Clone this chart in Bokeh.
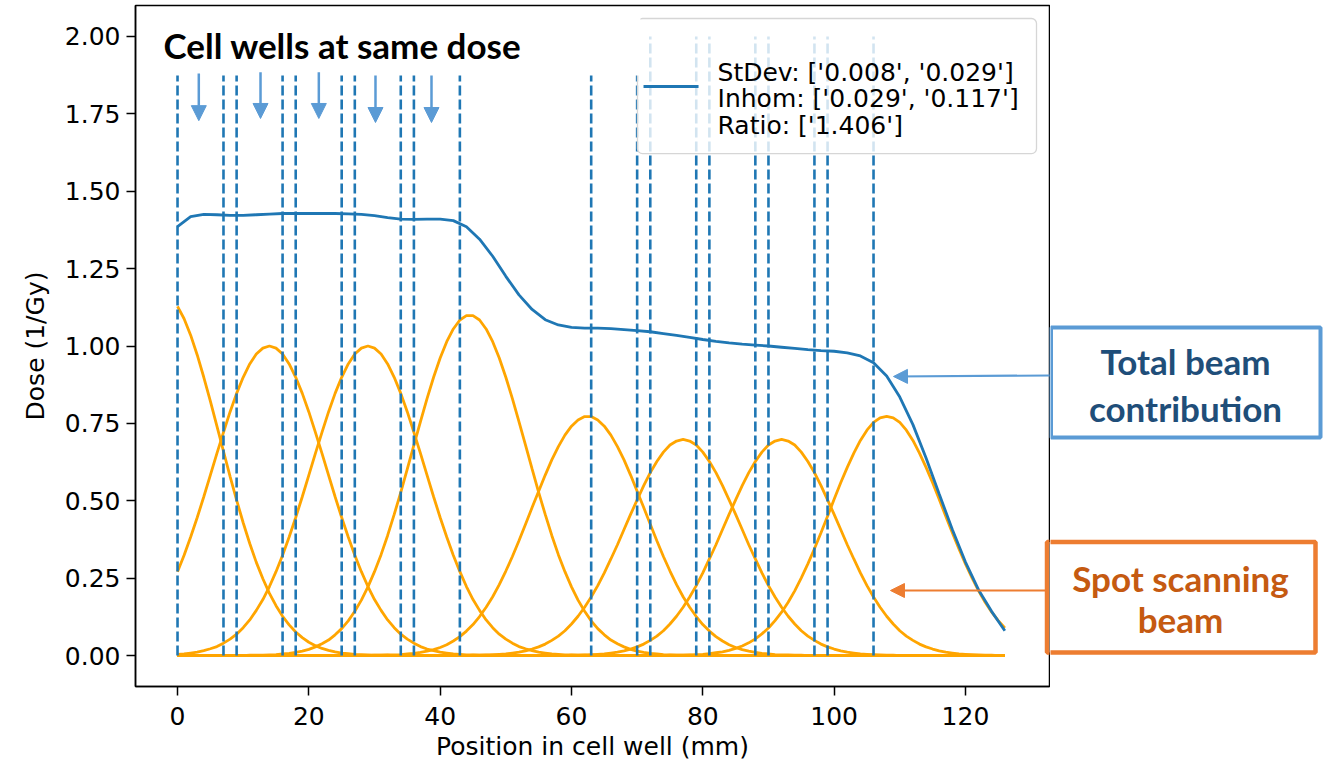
from bokeh.plotting import figure
from bokeh.layouts import row
from bokeh.models import (Range1d, FixedTicker, NumeralTickFormatter, BoxAnnotation,
                          Label, Arrow, NormalHead, ColumnDataSource)
from bokeh.embed import file_html
from bokeh.resources import INLINE

# ---------------- data ----------------
x_mm = list(range(0, 127))          # spot profiles sampled every 1 mm (0..126)
x_total = list(range(0, 128, 2))    # total dose sampled every 2 mm (0..126)

spot_1 = [1.128, 1.088, 1.035, 0.971, 0.899, 0.822, 0.741, 0.660, 0.579, 0.502,
          0.429, 0.362, 0.301, 0.248, 0.201, 0.161, 0.127, 0.099, 0.076, 0.058,
          0.043, 0.032, 0.023, 0.017, 0.012, 0.008, 0.006, 0.004, 0.003, 0.002,
          0.001, 0.001, 0.001, 0, 0, 0, 0, 0, 0, 0,
          0, 0, 0, 0, 0, 0, 0, 0, 0, 0,
          0, 0, 0, 0, 0, 0, 0, 0, 0, 0,
          0, 0, 0, 0, 0, 0, 0, 0, 0, 0,
          0, 0, 0, 0, 0, 0, 0, 0, 0, 0,
          0, 0, 0, 0, 0, 0, 0, 0, 0, 0,
          0, 0, 0, 0, 0, 0, 0, 0, 0, 0,
          0, 0, 0, 0, 0, 0, 0, 0, 0, 0,
          0, 0, 0, 0, 0, 0, 0, 0, 0, 0,
          0, 0, 0, 0, 0, 0, 0]
spot_2 = [0.271, 0.324, 0.383, 0.446, 0.513, 0.583, 0.653, 0.721, 0.787, 0.847,
          0.899, 0.942, 0.974, 0.993, 1.000, 0.993, 0.974, 0.942, 0.899, 0.847,
          0.787, 0.721, 0.653, 0.583, 0.513, 0.446, 0.383, 0.324, 0.271, 0.223,
          0.181, 0.146, 0.115, 0.090, 0.069, 0.053, 0.040, 0.029, 0.021, 0.016,
          0.011, 0.008, 0.005, 0.004, 0.002, 0.002, 0.001, 0.001, 0, 0,
          0, 0, 0, 0, 0, 0, 0, 0, 0, 0,
          0, 0, 0, 0, 0, 0, 0, 0, 0, 0,
          0, 0, 0, 0, 0, 0, 0, 0, 0, 0,
          0, 0, 0, 0, 0, 0, 0, 0, 0, 0,
          0, 0, 0, 0, 0, 0, 0, 0, 0, 0,
          0, 0, 0, 0, 0, 0, 0, 0, 0, 0,
          0, 0, 0, 0, 0, 0, 0, 0, 0, 0,
          0, 0, 0, 0, 0, 0, 0]
spot_3 = [0.004, 0.005, 0.008, 0.011, 0.016, 0.022, 0.029, 0.040, 0.053, 0.069,
          0.090, 0.115, 0.146, 0.181, 0.223, 0.271, 0.324, 0.383, 0.446, 0.513,
          0.583, 0.653, 0.721, 0.787, 0.847, 0.899, 0.942, 0.974, 0.993, 1.000,
          0.993, 0.974, 0.942, 0.899, 0.847, 0.787, 0.721, 0.653, 0.583, 0.513,
          0.446, 0.383, 0.324, 0.271, 0.223, 0.181, 0.146, 0.115, 0.090, 0.069,
          0.053, 0.040, 0.029, 0.022, 0.016, 0.011, 0.008, 0.005, 0.004, 0.002,
          0.002, 0.001, 0.001, 0, 0, 0, 0, 0, 0, 0,
          0, 0, 0, 0, 0, 0, 0, 0, 0, 0,
          0, 0, 0, 0, 0, 0, 0, 0, 0, 0,
          0, 0, 0, 0, 0, 0, 0, 0, 0, 0,
          0, 0, 0, 0, 0, 0, 0, 0, 0, 0,
          0, 0, 0, 0, 0, 0, 0, 0, 0, 0,
          0, 0, 0, 0, 0, 0, 0]
spot_4 = [0, 0, 0, 0, 0, 0, 0, 0, 0, 0,
          0, 0.001, 0.001, 0.001, 0.002, 0.003, 0.005, 0.007, 0.010, 0.014,
          0.020, 0.028, 0.038, 0.050, 0.067, 0.087, 0.112, 0.143, 0.179, 0.222,
          0.271, 0.326, 0.388, 0.456, 0.527, 0.603, 0.680, 0.756, 0.830, 0.899,
          0.961, 1.014, 1.055, 1.084, 1.098, 1.098, 1.084, 1.055, 1.014, 0.961,
          0.899, 0.830, 0.756, 0.680, 0.603, 0.527, 0.456, 0.388, 0.326, 0.271,
          0.222, 0.179, 0.143, 0.112, 0.087, 0.067, 0.050, 0.038, 0.028, 0.020,
          0.014, 0.010, 0.007, 0.005, 0.003, 0.002, 0.001, 0.001, 0.001, 0,
          0, 0, 0, 0, 0, 0, 0, 0, 0, 0,
          0, 0, 0, 0, 0, 0, 0, 0, 0, 0,
          0, 0, 0, 0, 0, 0, 0, 0, 0, 0,
          0, 0, 0, 0, 0, 0, 0, 0, 0, 0,
          0, 0, 0, 0, 0, 0, 0]
spot_5 = [0, 0, 0, 0, 0, 0, 0, 0, 0, 0,
          0, 0, 0, 0, 0, 0, 0, 0, 0, 0,
          0, 0, 0, 0, 0, 0, 0, 0, 0, 0,
          0.001, 0.001, 0.002, 0.002, 0.003, 0.005, 0.007, 0.010, 0.014, 0.019,
          0.026, 0.035, 0.047, 0.061, 0.079, 0.100, 0.126, 0.156, 0.190, 0.229,
          0.273, 0.320, 0.371, 0.424, 0.478, 0.531, 0.583, 0.632, 0.675, 0.712,
          0.741, 0.761, 0.772, 0.772, 0.761, 0.741, 0.712, 0.675, 0.632, 0.583,
          0.531, 0.478, 0.424, 0.371, 0.320, 0.273, 0.229, 0.190, 0.156, 0.126,
          0.100, 0.079, 0.061, 0.047, 0.035, 0.026, 0.019, 0.014, 0.010, 0.007,
          0.005, 0.003, 0.002, 0.002, 0.001, 0.001, 0, 0, 0, 0,
          0, 0, 0, 0, 0, 0, 0, 0, 0, 0,
          0, 0, 0, 0, 0, 0, 0, 0, 0, 0,
          0, 0, 0, 0, 0, 0, 0]
spot_6 = [0, 0, 0, 0, 0, 0, 0, 0, 0, 0,
          0, 0, 0, 0, 0, 0, 0, 0, 0, 0,
          0, 0, 0, 0, 0, 0, 0, 0, 0, 0,
          0, 0, 0, 0, 0, 0, 0, 0, 0, 0,
          0, 0, 0, 0, 0, 0.001, 0.001, 0.002, 0.003, 0.004,
          0.005, 0.008, 0.011, 0.015, 0.021, 0.028, 0.037, 0.049, 0.063, 0.080,
          0.102, 0.127, 0.156, 0.189, 0.226, 0.267, 0.312, 0.358, 0.407, 0.456,
          0.503, 0.549, 0.591, 0.627, 0.657, 0.680, 0.693, 0.698, 0.693, 0.680,
          0.657, 0.627, 0.591, 0.549, 0.503, 0.456, 0.407, 0.358, 0.312, 0.267,
          0.226, 0.189, 0.156, 0.127, 0.102, 0.080, 0.063, 0.049, 0.037, 0.028,
          0.021, 0.015, 0.011, 0.008, 0.005, 0.004, 0.003, 0.002, 0.001, 0.001,
          0, 0, 0, 0, 0, 0, 0, 0, 0, 0,
          0, 0, 0, 0, 0, 0, 0]
spot_7 = [0, 0, 0, 0, 0, 0, 0, 0, 0, 0,
          0, 0, 0, 0, 0, 0, 0, 0, 0, 0,
          0, 0, 0, 0, 0, 0, 0, 0, 0, 0,
          0, 0, 0, 0, 0, 0, 0, 0, 0, 0,
          0, 0, 0, 0, 0, 0, 0, 0, 0, 0,
          0, 0, 0, 0, 0, 0, 0, 0, 0, 0,
          0.001, 0.001, 0.002, 0.003, 0.004, 0.005, 0.008, 0.011, 0.015, 0.021,
          0.028, 0.037, 0.049, 0.063, 0.080, 0.102, 0.127, 0.156, 0.189, 0.226,
          0.267, 0.312, 0.358, 0.407, 0.456, 0.503, 0.549, 0.591, 0.627, 0.657,
          0.680, 0.693, 0.698, 0.693, 0.680, 0.657, 0.627, 0.591, 0.549, 0.503,
          0.456, 0.407, 0.358, 0.312, 0.267, 0.226, 0.189, 0.156, 0.127, 0.102,
          0.080, 0.063, 0.049, 0.037, 0.028, 0.021, 0.015, 0.011, 0.008, 0.005,
          0.004, 0.003, 0.002, 0.001, 0.001, 0, 0]
spot_8 = [0, 0, 0, 0, 0, 0, 0, 0, 0, 0,
          0, 0, 0, 0, 0, 0, 0, 0, 0, 0,
          0, 0, 0, 0, 0, 0, 0, 0, 0, 0,
          0, 0, 0, 0, 0, 0, 0, 0, 0, 0,
          0, 0, 0, 0, 0, 0, 0, 0, 0, 0,
          0, 0, 0, 0, 0, 0, 0, 0, 0, 0,
          0, 0, 0, 0, 0, 0, 0, 0, 0, 0,
          0, 0, 0, 0, 0, 0.001, 0.001, 0.001, 0.002, 0.003,
          0.004, 0.006, 0.009, 0.012, 0.017, 0.023, 0.031, 0.041, 0.054, 0.070,
          0.089, 0.113, 0.140, 0.172, 0.209, 0.251, 0.296, 0.345, 0.397, 0.450,
          0.505, 0.558, 0.608, 0.654, 0.695, 0.728, 0.753, 0.768, 0.773, 0.768,
          0.753, 0.728, 0.695, 0.654, 0.608, 0.558, 0.505, 0.450, 0.397, 0.345,
          0.296, 0.251, 0.209, 0.172, 0.140, 0.113, 0.089]
spots = [spot_1, spot_2, spot_3, spot_4, spot_5, spot_6, spot_7, spot_8]

total_dose = [1.386, 1.418, 1.425, 1.424, 1.422, 1.422, 1.424, 1.426, 1.428, 1.428, 1.428, 1.428, 1.428, 1.427, 1.425, 1.421,
              1.415, 1.410, 1.409, 1.410, 1.410, 1.405, 1.385, 1.345, 1.290, 1.225, 1.165, 1.118, 1.085, 1.068, 1.060, 1.058,
              1.058, 1.056, 1.053, 1.050, 1.046, 1.040, 1.034, 1.028, 1.021, 1.015, 1.010, 1.006, 1.003, 1.000, 0.996, 0.992,
              0.988, 0.985, 0.983, 0.978, 0.968, 0.946, 0.903, 0.835, 0.746, 0.638, 0.522, 0.407, 0.302, 0.212, 0.142, 0.080]

well_edges = [0, 7, 9, 16, 18, 25, 27, 34, 36, 43, 63, 70, 72, 79, 81, 88, 90, 97, 99, 106]
edge_low = 0.0
edge_high = 2.0

arrow_x = [3.24, 12.64, 21.52, 30.15, 38.68]
arrow_top = [1.880, 1.884, 1.884, 1.874, 1.874]
arrow_tip = [1.728, 1.735, 1.735, 1.722, 1.722]

x_ticks = [0, 20, 40, 60, 80, 100, 120]
y_ticks = [0.0, 0.25, 0.5, 0.75, 1.0, 1.25, 1.5, 1.75, 2.0]

legend_lines = ["StDev: ['0.008', '0.029']", "Inhom: ['0.029', '0.117']", "Ratio: ['1.406']"]

# ---------------- styles ----------------
MPL_BLUE = "#1f77b4"
ORANGE = "#FFA500"
PPT_BLUE = "#5B9BD5"
PPT_ORANGE = "#ED7D31"
FONT = "DejaVu Sans"
PPT_FONT = "Lato"
FS = "25px"
PPT_FS = "35px"

# ---------------- main figure ----------------
p = figure(width=1050, height=767, output_backend="svg", toolbar_location=None,
           x_range=Range1d(-6.4, 132.8), y_range=Range1d(-0.1, 2.1),
           min_border_left=135, min_border_right=1, min_border_top=5, min_border_bottom=81)
p.background_fill_color = "white"
p.border_fill_color = "white"
p.grid.visible = False
p.outline_line_color = "black"
p.outline_line_width = 1.5
p.outline_line_alpha = 1.0

for ax in (p.xaxis[0], p.yaxis[0]):
    ax.axis_line_color = "black"
    ax.axis_line_width = 1.5
    ax.major_tick_line_color = "black"
    ax.major_tick_line_width = 1.5
    ax.major_tick_out = 9
    ax.major_tick_in = 0
    ax.minor_tick_line_color = None
    ax.major_label_text_font = FONT
    ax.major_label_text_font_size = FS
    ax.major_label_text_color = "black"
    ax.axis_label_text_font = FONT
    ax.axis_label_text_font_size = FS
    ax.axis_label_text_font_style = "normal"
    ax.axis_label_text_color = "black"

p.xaxis.ticker = FixedTicker(ticks=x_ticks)
p.yaxis.ticker = FixedTicker(ticks=y_ticks)
p.yaxis.formatter = NumeralTickFormatter(format="0.00")
p.xaxis.axis_label = "Position in cell well (mm)"
p.yaxis.axis_label = "Dose (1/Gy)"
p.xaxis.major_label_standoff = 11
p.xaxis.axis_label_standoff = 4
p.yaxis.major_label_standoff = 6
p.yaxis.axis_label_standoff = 12

# spot scanning beams
for s in spots:
    p.line(x_mm, s, line_color=ORANGE, line_width=2.8)

# well edges
n = len(well_edges)
p.segment(x0=well_edges, y0=[edge_low] * n, x1=well_edges, y1=[edge_high] * n,
          line_color=MPL_BLUE, line_width=2.6, line_dash="10 4")

# total beam
p.line(x_total, total_dose, line_color=MPL_BLUE, line_width=2.8)

# legend (matplotlib style, drawn by hand)
p.add_layout(BoxAnnotation(left=70.05, right=130.82, top=2.058, bottom=1.6217,
                           fill_color="white", fill_alpha=0.8, line_color="#d6d6d6", line_alpha=1.0,
                           line_width=1.3, border_radius=5))
p.add_layout(Arrow(end=None, x_start=70.97, y_start=1.8384, x_end=79.35, y_end=1.8384,
                   line_color=MPL_BLUE, line_width=2.8))
for txt, yy in zip(legend_lines, [1.8835, 1.7995, 1.7123]):
    p.add_layout(Label(x=82.24, y=yy, text=txt, text_font=FONT, text_font_size=FS,
                       text_color="black", text_baseline="middle", text_align="left"))

# white cover behind overlay title
p.add_layout(BoxAnnotation(left=-5.64, right=70.51, top=2.0936, bottom=1.8739,
                           fill_color="white", fill_alpha=1.0, line_color=None))
p.add_layout(Label(x=-2.14, y=1.9708, text="Cell wells at same dose", text_font=PPT_FONT,
                   text_font_style="bold", text_font_size=PPT_FS, text_color="black",
                   text_baseline="middle", text_align="left"))

# down arrows
arrow_src = ColumnDataSource(dict(x=arrow_x, y0=arrow_top, y1=arrow_tip))
p.add_layout(Arrow(end=NormalHead(size=15, fill_color=PPT_BLUE, line_color=PPT_BLUE, line_width=1),
                   x_start="x", y_start="y0", x_end="x", y_end="y1", source=arrow_src,
                   line_color=PPT_BLUE, line_width=2.5))

# call-out arrows (inside the frame) and left edges of the boxes
p.add_layout(Arrow(end=NormalHead(size=14, fill_color=PPT_BLUE, line_color=PPT_BLUE, line_width=1),
                   x_start=133.3, y_start=0.9047, x_end=109.04, y_end=0.9015,
                   line_color=PPT_BLUE, line_width=2.2))
p.add_layout(Arrow(end=NormalHead(size=14, fill_color=PPT_ORANGE, line_color=PPT_ORANGE, line_width=1),
                   x_start=132.4, y_start=0.2101, x_end=108.58, y_end=0.2101,
                   line_color=PPT_ORANGE, line_width=2.2))
p.add_layout(BoxAnnotation(left=133.03, right=175.0, top=1.0591, bottom=0.7045,
                           fill_color="white", fill_alpha=1.0, line_color=PPT_BLUE, line_alpha=1.0,
                           line_width=4))
p.add_layout(BoxAnnotation(left=132.42, right=175.0, top=0.3668, bottom=0.0098,
                           fill_color="white", fill_alpha=1.0, line_color=PPT_ORANGE, line_alpha=1.0,
                           line_width=4.5))

# ---------------- side panel with the call-out boxes (page-pixel coordinates) ----------------
side = figure(width=280, height=767, output_backend="svg", toolbar_location=None,
              x_range=Range1d(1050, 1330), y_range=Range1d(686, 5),
              x_axis_type=None, y_axis_type=None,
              min_border_left=0, min_border_right=0, min_border_top=5, min_border_bottom=81)
side.grid.visible = False
side.outline_line_color = None
side.background_fill_color = "white"
side.border_fill_color = "white"

side.add_layout(BoxAnnotation(left=1050.5, right=1320, top=327, bottom=437,
                              fill_color="white", fill_alpha=1.0, line_color=PPT_BLUE, line_alpha=1.0,
                              line_width=4))
side.add_layout(Label(x=1185, y=360, text="Total beam", text_font=PPT_FONT, text_font_style="bold",
                      text_font_size=PPT_FS, text_color="#1F4E79", text_align="center", text_baseline="middle"))
side.add_layout(Label(x=1185, y=407, text="contribution", text_font=PPT_FONT, text_font_style="bold",
                      text_font_size=PPT_FS, text_color="#1F4E79", text_align="center", text_baseline="middle"))

side.add_layout(BoxAnnotation(left=1046.5, right=1315, top=541.5, bottom=652,
                              fill_color="white", fill_alpha=1.0, line_color=PPT_ORANGE, line_alpha=1.0,
                              line_width=4.5))
side.add_layout(Label(x=1180, y=577, text="Spot scanning", text_font=PPT_FONT, text_font_style="bold",
                      text_font_size=PPT_FS, text_color="#C55A11", text_align="center", text_baseline="middle"))
side.add_layout(Label(x=1180, y=618, text="beam", text_font=PPT_FONT, text_font_style="bold",
                      text_font_size=PPT_FS, text_color="#C55A11", text_align="center", text_baseline="middle"))

layout = row(p, side)
open("out.html", "w").write(file_html(layout, INLINE))
